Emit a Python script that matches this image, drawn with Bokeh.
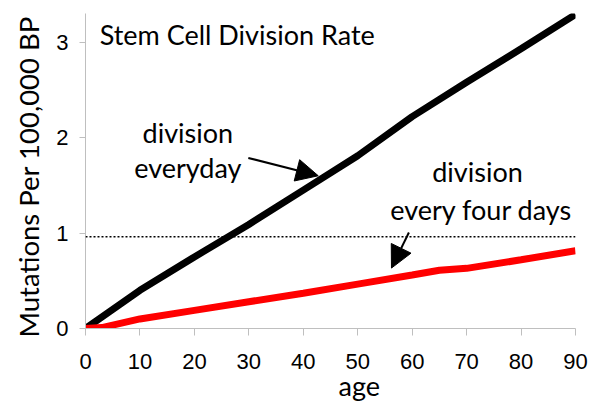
from bokeh.plotting import figure
from bokeh.models import Range1d, Span, Label, Arrow, NormalHead, FixedTicker, Title
from bokeh.embed import file_html
from bokeh.resources import INLINE

# data
age_daily = [0, 10, 20, 30, 40, 50, 60, 70, 80, 90]
mut_daily = [0.0, 0.40, 0.75, 1.09, 1.45, 1.81, 2.22, 2.58, 2.93, 3.29]
age_four = [0, 3, 10, 20, 30, 40, 50, 60, 65, 70, 80, 90]
mut_four = [0.0, 0.01, 0.10, 0.19, 0.28, 0.37, 0.465, 0.56, 0.61, 0.63, 0.72, 0.815]
threshold = 0.96
x_ticks = [0, 10, 20, 30, 40, 50, 60, 70, 80, 90]
y_ticks = [0, 1, 2, 3]

LBL_FONT = "Lato"
TICK_FONT = "Liberation Sans"

p = figure(width=600, height=407, output_backend="svg", toolbar_location=None,
           x_range=Range1d(0, 90), y_range=Range1d(0, 3.3),
           min_border_left=84, min_border_right=25, min_border_top=13, min_border_bottom=79)
p.outline_line_color = None
p.grid.visible = False
p.background_fill_color = "white"
p.border_fill_color = "white"

for ax in (p.xaxis[0], p.yaxis[0]):
    ax.axis_line_color = "#bfbfbf"
    ax.axis_line_width = 1
    ax.major_tick_line_color = "#bfbfbf"
    ax.minor_tick_line_color = None
    ax.major_tick_in = 0
    ax.major_label_text_font = TICK_FONT
    ax.major_label_text_font_size = "22px"
    ax.major_label_text_color = "black"

p.xaxis.ticker = FixedTicker(ticks=x_ticks)
p.yaxis.ticker = FixedTicker(ticks=y_ticks)
p.xaxis.major_tick_out = 7
p.yaxis.major_tick_out = 6
p.xaxis.major_label_standoff = 18
p.yaxis.major_label_standoff = 11

p.add_layout(Title(text="Mutations Per 100,000 BP", text_font=LBL_FONT,
                   text_font_size="27.5px", text_font_style="normal",
                   text_color="black", align="left", offset=-9, standoff=18), "left")
p.add_layout(Title(text="age", text_font=LBL_FONT, text_font_size="27px",
                   text_font_style="normal", text_color="black",
                   align="left", offset=253, standoff=-10), "below")

p.line(age_daily, mut_daily, line_color="black", line_width=7)
p.line(age_four, mut_four, line_color="red", line_width=7)

p.add_layout(Span(location=threshold, dimension="width", line_color="black",
                  line_width=1.5, line_dash="2 2"))

def txt(x, y, s, align="center"):
    p.add_layout(Label(x=x, y=y, text=s, text_font=LBL_FONT, text_font_size="27px",
                       text_align=align, text_baseline="middle", text_color="black"))

txt(2.6, 3.08, "Stem Cell Division Rate", "left")
txt(18.8, 2.05, "division")
txt(18.8, 1.69, "everyday")
txt(72.0, 1.64, "division")
txt(72.7, 1.245, "every four days")

p.add_layout(Arrow(x_start=29.9, y_start=1.787, x_end=42.75, y_end=1.60,
                   line_color="black", line_width=2,
                   end=NormalHead(size=22, fill_color="black", line_color="black")))
p.add_layout(Arrow(x_start=59.4, y_start=1.006, x_end=56.2, y_end=0.633,
                   line_color="black", line_width=2,
                   end=NormalHead(size=22, fill_color="black", line_color="black")))

open("out.html", "w").write(file_html(p, INLINE))
